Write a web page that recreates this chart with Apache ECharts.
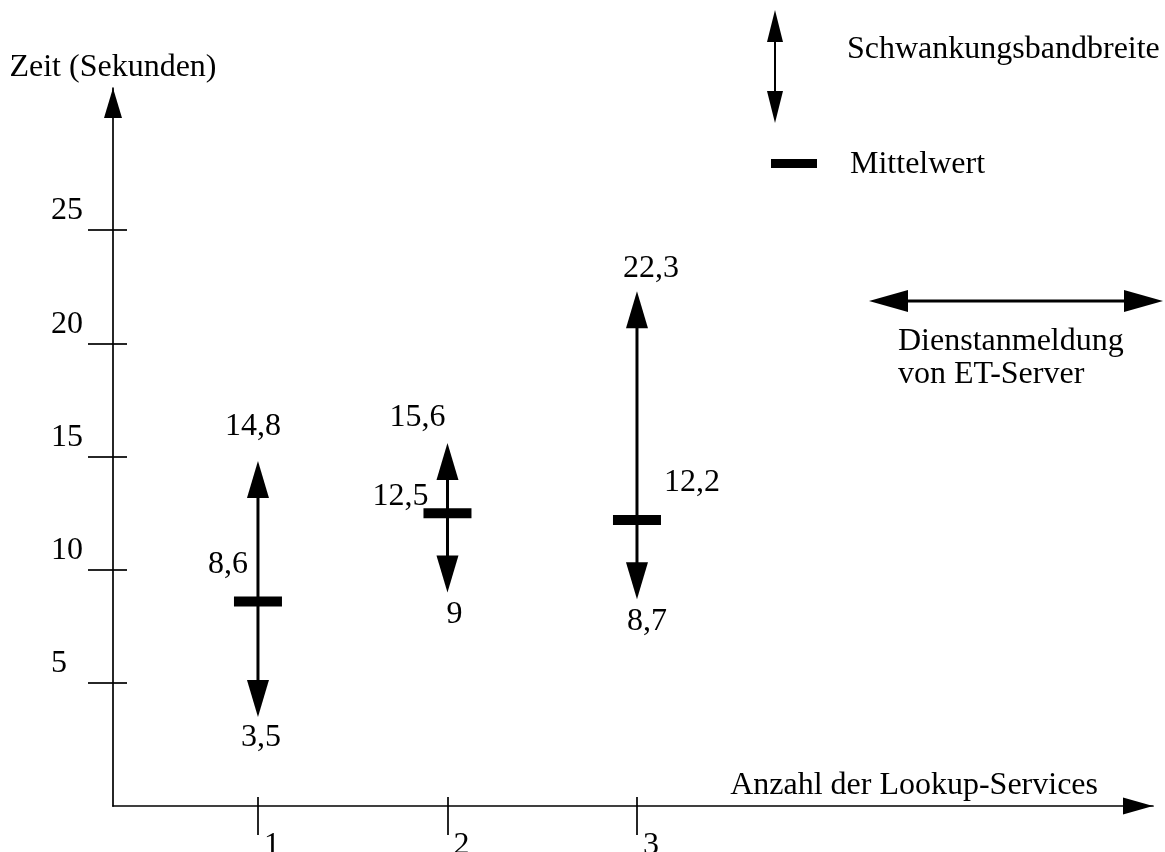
<!DOCTYPE html>
<html>
<head>
<meta charset="utf-8"/>
<script src="https://cdn.jsdelivr.net/npm/echarts@6/dist/echarts.min.js"></script>
<style>html,body{margin:0;background:#fff;}</style>
</head>
<body>
<div id="main" style="width:1165px;height:852px;"></div>
<script>
// Anzahl der Lookup-Services
var services = [1, 2, 3];
// Zeit (Sekunden): unteres Ende, Mittelwert, oberes Ende der Schwankung
var minTime = [3.5, 9, 8.7];
var meanTime = [8.6, 12.5, 12.2];
var maxTime = [14.8, 15.6, 22.3];
var yTicks = [5, 10, 15, 20, 25];

var FONT = 'Liberation Serif';
var FS = 32;

// Beschriftungen sind im Original von Hand gesetzt -> kleine Verschiebungen [dx, dy]
var nudgeTop = [[-5, -34], [-30, -25], [14, -23]];
var nudgeMean = [[-30, -37], [-47, -17], [55, -37]];
var nudgeLow = [[3, 21], [7, 22], [10, 22]];

function komma(v) { return String(v).replace('.', ','); }

function txt(s, x, y, align) {
  return {
    type: 'text', x: x, y: y,
    style: { text: s, fill: '#000', fontSize: FS, fontFamily: FONT, align: align || 'center', verticalAlign: 'middle', lineHeight: 33 }
  };
}

// Doppelpfeil mit gefuellten Spitzen
function doubleArrow(x1, y1, x2, y2, headL, headW, lw) {
  var len = Math.sqrt((x2 - x1) * (x2 - x1) + (y2 - y1) * (y2 - y1));
  var ux = (x2 - x1) / len, uy = (y2 - y1) / len;
  var nx = -uy, ny = ux;
  function head(tx, ty, dx, dy) {
    var bx = tx - dx * headL, by = ty - dy * headL;
    return { type: 'polygon', shape: { points: [[tx, ty], [bx + nx * headW, by + ny * headW], [bx - nx * headW, by - ny * headW]] }, style: { fill: '#000' } };
  }
  return [
    { type: 'line', shape: { x1: x1 + ux * (headL - 2), y1: y1 + uy * (headL - 2), x2: x2 - ux * (headL - 2), y2: y2 - uy * (headL - 2) }, style: { stroke: '#000', lineWidth: lw } },
    head(x1, y1, -ux, -uy),
    head(x2, y2, ux, uy)
  ];
}

var data = services.map(function (s, i) { return [s, minTime[i], meanTime[i], maxTime[i]]; });

function renderItem(params, api) {
  var i = params.dataIndex;
  var x = api.value(0);
  var lo = api.value(1), mean = api.value(2), hi = api.value(3);
  var pHi = api.coord([x, hi]);
  var pMean = api.coord([x, mean]);
  var pLo = api.coord([x, lo]);
  var cx = pHi[0];
  var children = doubleArrow(cx, pLo[1], cx, pHi[1], 37, 11, 3);
  children.push({ type: 'rect', shape: { x: cx - 24, y: pMean[1] - 5, width: 48, height: 10 }, style: { fill: '#000' } });
  children.push(txt(komma(hi), cx + nudgeTop[i][0], pHi[1] + nudgeTop[i][1]));
  children.push(txt(komma(mean), cx + nudgeMean[i][0], pMean[1] + nudgeMean[i][1]));
  children.push(txt(komma(lo), cx + nudgeLow[i][0], pLo[1] + nudgeLow[i][1]));
  return { type: 'group', children: children };
}

var axisFont = { fontFamily: FONT, fontSize: FS, color: '#000' };
var black = { color: '#000', width: 1.7 };

var myChart = echarts.init(document.getElementById('main'));
var option = {
  backgroundColor: '#fff',
  animation: false,
  grid: { left: 113, right: 12, top: 88, bottom: 46, containLabel: false, outerBoundsMode: 'none' },
  xAxis: [{
    type: 'value', min: 0.235, max: 5.723,
    name: 'Anzahl der Lookup-Services', nameLocation: 'end', nameGap: -55,
    nameTextStyle: { fontFamily: FONT, fontSize: FS, color: '#000', align: 'right', verticalAlign: 'bottom', padding: [0, 0, 4, 0] },
    axisLine: { onZero: false, lineStyle: black, symbol: ['none', 'triangle'], symbolSize: [17, 30], symbolOffset: [0, -15] },
    axisTick: { show: true, length: 29, customValues: services, lineStyle: black },
    axisLabel: Object.assign({ customValues: services, margin: 24, align: 'left', verticalAlign: 'top', padding: [0, 0, 0, 6] }, axisFont),
    splitLine: { show: false }
  }, {
    type: 'value', min: 0.235, max: 5.723, position: 'bottom',
    axisLine: { show: false, onZero: false },
    axisTick: { show: true, inside: true, length: 9, customValues: services, lineStyle: black },
    axisLabel: { show: false },
    splitLine: { show: false }
  }],
  yAxis: [{
    type: 'value', min: -0.43, max: 31.27,
    name: 'Zeit (Sekunden)', nameLocation: 'end', nameGap: 20,
    nameTextStyle: { fontFamily: FONT, fontSize: FS, color: '#000', align: 'center', verticalAlign: 'middle' },
    axisLine: { show: true, onZero: false, lineStyle: black, symbol: ['none', 'triangle'], symbolSize: [18, 30], symbolOffset: [0, -15] },
    axisTick: { show: true, length: 25, customValues: yTicks, lineStyle: black },
    axisLabel: Object.assign({ customValues: yTicks, margin: 62, align: 'left', verticalAlign: 'bottom', lineHeight: 38 }, axisFont),
    splitLine: { show: false }
  }, {
    type: 'value', min: -0.43, max: 31.27, position: 'left',
    axisLine: { show: false, onZero: false },
    axisTick: { show: true, inside: true, length: 14, customValues: yTicks, lineStyle: black },
    axisLabel: { show: false },
    splitLine: { show: false }
  }],
  series: [{
    type: 'custom',
    name: 'Schwankungsbandbreite',
    renderItem: renderItem,
    encode: { x: 0, y: [1, 2, 3] },
    data: data,
    clip: false
  }],
  graphic: [].concat(
    doubleArrow(775, 10, 775, 123, 32, 8, 2),
    [txt('Schwankungsbandbreite', 847, 50, 'left'),
     { type: 'rect', shape: { x: 771, y: 159, width: 46, height: 9 }, style: { fill: '#000' } },
     txt('Mittelwert', 850, 165, 'left')],
    doubleArrow(869, 301, 1163, 301, 39, 11, 3),
    [txt('Dienstanmeldung\nvon ET-Server', 898, 358, 'left')]
  )
};
myChart.setOption(option);
</script>
</body>
</html>
